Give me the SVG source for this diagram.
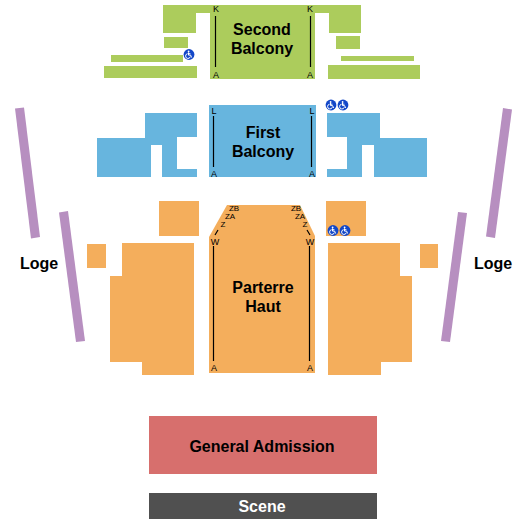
<svg xmlns="http://www.w3.org/2000/svg" width="525" height="525" viewBox="0 0 525 525">
<style>
.g{fill:#accc5c}.b{fill:#67b5de}.o{fill:#f4ae5c}.p{fill:#b78fc0}
text{font-family:"Liberation Sans",Arial,sans-serif;font-weight:700;text-anchor:middle;fill:#000}
.n{font-size:16px}.r{font-size:9px;font-weight:400}.z{font-size:8px;font-weight:400}
.l{stroke:#000;stroke-width:1.2;fill:none}
</style>
<defs>
<g id="wc">
<circle r="5.4" fill="#1347c8"/>
<circle cx="-0.4" cy="-3" r="0.9" fill="#fff"/>
<path d="M-0.5-2V0.6H1.6L2.6 3M-0.5-0.8H1.4M-1.4-0.8A2.4 2.4 0 1 0 1.3 2.2" fill="none" stroke="#fff" stroke-width="1"/>
</g>
</defs>
<g id="second-balcony">
<polygon class="g" points="163,5 361,5 361,33 329,33 329,13 315,13 315,79 210,79 210,13 196,13 196,33 163,33"/>
<rect class="g" x="164" y="37" width="24" height="11"/>
<rect class="g" x="111" y="55" width="72" height="7"/>
<rect class="g" x="104" y="66" width="93" height="12"/>
<rect class="g" x="336" y="36" width="24" height="13"/>
<rect class="g" x="341" y="56" width="73" height="5"/>
<rect class="g" x="328" y="65" width="92" height="14"/>
<text class="n" x="262" y="35">Second</text>
<text class="n" x="262" y="54">Balcony</text>
<text class="r" x="216" y="12">K</text><text class="r" x="310" y="12">K</text>
<text class="r" x="216" y="77.500">A</text><text class="r" x="310" y="77.500">A</text>
<use href="#wc" x="189" y="54.500"/>
</g>
<g id="first-balcony">
<rect class="b" x="209" y="105" width="107" height="72"/>
<polygon class="b" points="145,113 197,113 197,137 177,137 177,169 197,169 197,177 162,177 162,145 151,145 151,177 97,177 97,138 145,138"/>
<polygon class="b" points="327,113 380,113 380,138 427,138 427,177 374,177 374,145 362,145 362,177 327,177 327,169 347,169 347,137 327,137"/>
<text class="n" x="263" y="138">First</text>
<text class="n" x="263" y="157">Balcony</text>
<text class="r" x="214" y="113.500">L</text><text class="r" x="312" y="113.500">L</text>
<text class="r" x="214" y="176.500">A</text><text class="r" x="312" y="176.500">A</text>
<use href="#wc" x="331" y="105"/><use href="#wc" x="343" y="105"/>
</g>
<g id="parterre-haut">
<polygon class="o" points="227,205 300,205 315,236 315,373 209,373 209,237"/>
<rect class="o" x="159" y="201" width="40" height="35"/>
<rect class="o" x="326" y="201" width="40" height="35"/>
<rect class="o" x="87" y="244" width="19" height="24"/>
<rect class="o" x="420" y="244" width="18" height="24"/>
<polygon class="o" points="122,243 194,243 194,375 142,375 142,362 110,362 110,276 122,276"/>
<polygon class="o" points="328,243 400,243 400,276 412,276 412,362 381,362 381,375 328,375"/>
<text class="n" x="263" y="293">Parterre</text>
<text class="n" x="263" y="312">Haut</text>
<text class="z" x="234" y="211">ZB</text><text class="z" x="230" y="219">ZA</text><text class="z" x="223" y="227">Z</text><text class="r" x="215" y="244.500">W</text><text class="r" x="214" y="370.500">A</text>
<text class="z" x="296" y="211">ZB</text><text class="z" x="300" y="219">ZA</text><text class="z" x="305" y="227">Z</text><text class="r" x="310" y="244.500">W</text><text class="r" x="310" y="370.500">A</text>
<use href="#wc" x="333" y="230.500"/><use href="#wc" x="345" y="230.500"/>
</g>
<g id="loge-left">
<polygon class="p" points="15,108.500 24,107.500 40,237 31,238.500"/>
<polygon class="p" points="59,212.500 68,211 85,341 76,342"/>
<text class="n" x="39" y="269">Loge</text>
</g>
<g id="loge-right">
<polygon class="p" points="503,108 512,109.500 495,238 486,236.500"/>
<polygon class="p" points="458,212 467,213 450,342 441,341"/>
<text class="n" x="493" y="269">Loge</text>
</g>
<g id="general-admission">
<rect x="149" y="416" width="228" height="58" fill="#d76f6d"/>
<text class="n" x="262" y="452">General Admission</text>
</g>
<g id="scene">
<rect x="149" y="493" width="228" height="26" fill="#505050"/>
<text class="n" x="262" y="512" style="fill:#fff">Scene</text>
</g>
<g id="connectors">
<path class="l" d="M215.500 16V67M310.500 16V67M213.500 116V167M311.500 116V167M213.500 246V361M309.500 246V361M215 235L218 230M307 230L310 235"/>
</g>
</svg>
